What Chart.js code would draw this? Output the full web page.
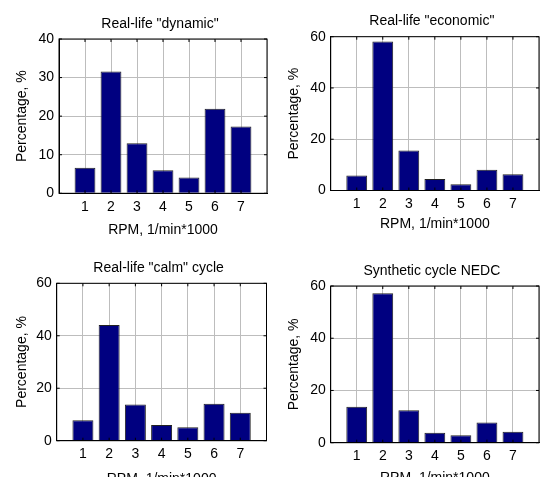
<!DOCTYPE html>
<html>
<head>
<meta charset="utf-8">
<script src="https://cdn.jsdelivr.net/npm/chart.js@4/dist/chart.umd.min.js"></script>
<style>
    html, body { margin: 0; padding: 0; background: #fff; }
    body { width: 544px; height: 477px; overflow: hidden; position: relative; }
    canvas { position: absolute; }
</style>
</head>
<body>
<canvas id="c0"></canvas>
<canvas id="c1"></canvas>
<canvas id="c2"></canvas>
<canvas id="c3"></canvas>
<script>
// engine speed bins (x1000 rpm) and share of time in each bin, %
const rpm = [1, 2, 3, 4, 5, 6, 7];
const dynamicPct = [6.6, 31.6, 13.0, 6.0, 4.1, 21.9, 17.3];
const economicPct = [5.9, 58.1, 15.6, 4.5, 2.4, 8.1, 6.3];
const calmPct = [7.8, 44.1, 13.8, 6.0, 5.1, 14.1, 10.7];
const nedcPct = [13.8, 57.2, 12.4, 3.8, 2.9, 7.7, 4.2];

const titles = ['Real-life "dynamic"', 'Real-life "economic"', 'Real-life "calm" cycle', 'Synthetic cycle NEDC'];
const series = [dynamicPct, economicPct, calmPct, nedcPct];
const yMax = [40, 60, 60, 60];
const yStep = [10, 20, 20, 20];
const xLabel = 'RPM, 1/min*1000';
const yLabel = 'Percentage, %';

// where each panel sits on the page and where its plot box goes inside the canvas
const panels = [
    { x: 0,   y: 0,   w: 272, h: 240, left: 59,   top: 39,   right: 269,   bottom: 193.3, titleY: 24,   xTitleY: 230.5 },
    { x: 272, y: 0,   w: 272, h: 240, left: 58.7, top: 36.7, right: 269,   bottom: 190.5, titleY: 20.7, xTitleY: 224.5 },
    { x: 0,   y: 240, w: 272, h: 260, left: 56.7, top: 43.3, right: 266.5, bottom: 200.7, titleY: 27.7, xTitleY: 239 },
    { x: 272, y: 240, w: 272, h: 260, left: 58.7, top: 46,   right: 270,   bottom: 202.7, titleY: 30.7, xTitleY: 238.3 }
];

const FONT = '"Liberation Sans", Arial, sans-serif';
const GRID = '#bdbdbd';

// closed axes box with small inward ticks, plus the title over the plot
const boxPlugin = {
    id: 'box',
    afterDatasetsDraw(chart, args, opts) {
        const { ctx, chartArea: a, scales } = chart;
        ctx.save();
        ctx.strokeStyle = '#000';
        ctx.lineWidth = 1;
        ctx.strokeRect(a.left, a.top, a.right - a.left, a.bottom - a.top);
        ctx.beginPath();
        for (let i = 0; i < rpm.length; i++) {
            let px = scales.x.getPixelForValue(rpm[i]);
            ctx.moveTo(px, a.top); ctx.lineTo(px, a.top + 3);
            ctx.moveTo(px, a.bottom); ctx.lineTo(px, a.bottom - 3);
        }
        for (let v = 0; v <= opts.max; v += opts.step) {
            let py = scales.y.getPixelForValue(v);
            ctx.moveTo(a.left, py); ctx.lineTo(a.left + 3, py);
            ctx.moveTo(a.right, py); ctx.lineTo(a.right - 3, py);
        }
        ctx.stroke();

        ctx.fillStyle = '#000';
        ctx.font = '14px ' + FONT;
        ctx.textAlign = 'center';
        ctx.textBaseline = 'middle';
        ctx.fillText(opts.title, (a.left + a.right) / 2 - 3, opts.titleY);
        ctx.restore();
    }
};

for (let i = 0; i < panels.length; i++) {
    const p = panels[i];
    const canvas = document.getElementById('c' + i);
    canvas.width = p.w;
    canvas.height = p.h;
    canvas.style.left = p.x + 'px';
    canvas.style.top = p.y + 'px';

    let points = [];
    for (let k = 0; k < rpm.length; k++) {
        points.push({ x: rpm[k], y: series[i][k] });
    }

    new Chart(canvas, {
        type: 'bar',
        data: {
            datasets: [{
                data: points,
                backgroundColor: '#000080',
                borderColor: '#222222',
                borderWidth: 1,
                barPercentage: 0.8,
                categoryPercentage: 1
            }]
        },
        options: {
            responsive: false,
            animation: false,
            devicePixelRatio: 1,
            layout: { padding: { left: 0, top: p.top, right: p.w - p.right, bottom: 0 } },
            plugins: {
                legend: { display: false },
                tooltip: { enabled: false },
                box: { title: titles[i], titleY: p.titleY, max: yMax[i], step: yStep[i] }
            },
            scales: {
                x: {
                    type: 'linear',
                    min: 0,
                    max: 8,
                    offset: false,
                    afterFit: (s) => { s.height = p.h - p.bottom; },
                    grid: { color: GRID, offset: false, drawTicks: false },
                    border: { color: '#000' },
                    ticks: {
                        stepSize: 1,
                        autoSkip: false,
                        maxRotation: 0,
                        padding: 5,
                        color: '#000',
                        font: { family: FONT, size: 14 },
                        callback: (v) => (v >= 1 && v <= 7) ? String(v) : ''
                    },
                    title: {
                        display: true,
                        text: xLabel,
                        color: '#000',
                        font: { family: FONT, size: 14 },
                        padding: { top: 0, bottom: p.h - p.xTitleY - 8.4 }
                    }
                },
                y: {
                    min: 0,
                    max: yMax[i],
                    afterFit: (s) => { s.width = p.left; },
                    grid: { color: GRID, drawTicks: false },
                    border: { color: '#000' },
                    ticks: {
                        stepSize: yStep[i],
                        padding: 5,
                        color: '#000',
                        font: { family: FONT, size: 14 }
                    },
                    title: {
                        display: true,
                        text: yLabel,
                        color: '#000',
                        font: { family: FONT, size: 14 },
                        padding: { top: 13.6, bottom: 0 }
                    }
                }
            }
        },
        plugins: [boxPlugin]
    });
}
</script>
</body>
</html>
